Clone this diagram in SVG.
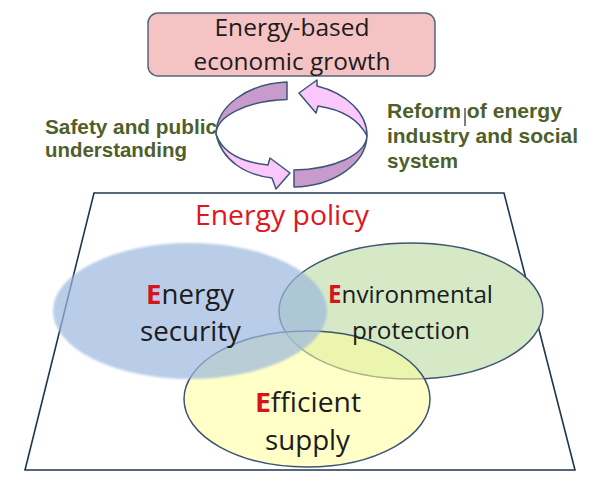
<svg xmlns="http://www.w3.org/2000/svg" width="600" height="485" viewBox="0 0 600 485">
<defs>
<style>
.lbl{font-family:"Open Sans","Liberation Sans",sans-serif;fill:#1c1c1c}
.side{font-family:"Liberation Sans",Arial,sans-serif;font-weight:bold;font-size:20.5px;fill:#4f5f2c}
.e{fill:#d7141c;font-weight:bold}
.arr{stroke:#3e5676;stroke-width:1.5;stroke-linejoin:round}
.dark{fill:#c89bcd}
.light{fill:#fac8fa}
.venn{stroke:#3d5570;stroke-width:1.5}
</style>
<filter id="soft" x="-5%" y="-10%" width="110%" height="120%"><feGaussianBlur stdDeviation="1.2"/></filter>
</defs>
<rect width="600" height="485" fill="#ffffff"/>

<g id="growth">
<rect x="148" y="13" width="287" height="63" rx="10" fill="#f6c3c5" stroke="#56657d" stroke-width="1.5"/>
<text class="lbl" font-size="24" x="292" y="36" text-anchor="middle" textLength="155" lengthAdjust="spacingAndGlyphs">Energy-based</text>
<text class="lbl" font-size="24" x="292" y="70" text-anchor="middle" textLength="197" lengthAdjust="spacingAndGlyphs">economic growth</text>
</g>

<g id="connectors">
<path class="arr dark" d="M287,82 A75.5 52.5 0 0 0 216,134 A75.5 35 0 0 1 287,99.6 Z"/>
<path class="arr light" d="M216,134 C222,152 240,162 268,165 L270,158 L290,173 L276,189 L272,178 C246,175 222,161 216,134 Z"/>
<path class="arr light" d="M317,86 A75.5 52.5 0 0 1 367,136 C360,122 345,110 318,106 L316,113 L299,93 L317,80 Z"/>
<path class="arr dark" d="M367,136 A75.5 52.5 0 0 1 294,187 L294,170 A75.5 35 0 0 0 367,136 Z"/>
</g>

<g id="safety">
<text class="side" x="45" y="134" textLength="172" lengthAdjust="spacingAndGlyphs">Safety and public</text>
<text class="side" x="45" y="157" textLength="142" lengthAdjust="spacingAndGlyphs">understanding</text>
</g>

<g id="reform">
<text class="side" x="387" y="118" textLength="175" lengthAdjust="spacingAndGlyphs">Reform of energy</text>
<line x1="465" y1="108" x2="465" y2="126" stroke="#000000" stroke-width="1"/>
<text class="side" x="387" y="143" textLength="191" lengthAdjust="spacingAndGlyphs">industry and social</text>
<text class="side" x="387" y="168" textLength="71" lengthAdjust="spacingAndGlyphs">system</text>
</g>

<g id="policy">
<polygon points="94,193 504,193 575,470 25,470" fill="#ffffff" stroke="#1f3550" stroke-width="1.6"/>
<text class="lbl" font-size="27" x="195" y="225" fill="#e0161c" style="fill:#e0161c" textLength="174" lengthAdjust="spacingAndGlyphs">Energy policy</text>
</g>

<g id="environmental-shape">
<ellipse class="venn" cx="411" cy="311" rx="132" ry="68" fill="#d6e9c6"/>
</g>
<g id="efficient-shape">
<ellipse class="venn" cx="307" cy="399" rx="123" ry="68" fill="#ffff99" fill-opacity="0.55"/>
</g>
<g id="security-shape">
<ellipse cx="190" cy="311" rx="137" ry="68" fill="#9bb8de" fill-opacity="0.7" filter="url(#soft)"/>
</g>

<g id="security">
<text class="lbl" font-size="27.5" x="146" y="304" textLength="88" lengthAdjust="spacingAndGlyphs"><tspan class="e">E</tspan>nergy</text>
<text class="lbl" font-size="27.5" x="140" y="341" textLength="101" lengthAdjust="spacingAndGlyphs">security</text>
</g>
<g id="environmental">
<text class="lbl" font-size="24.5" x="328" y="303" textLength="165" lengthAdjust="spacingAndGlyphs"><tspan class="e">E</tspan>nvironmental</text>
<text class="lbl" font-size="24.5" x="352" y="339" textLength="118" lengthAdjust="spacingAndGlyphs">protection</text>
</g>
<g id="efficient">
<text class="lbl" font-size="27.5" x="255" y="412" textLength="106" lengthAdjust="spacingAndGlyphs"><tspan class="e">E</tspan>fficient</text>
<text class="lbl" font-size="27.5" x="265" y="450" textLength="85" lengthAdjust="spacingAndGlyphs">supply</text>
</g>
</svg>
